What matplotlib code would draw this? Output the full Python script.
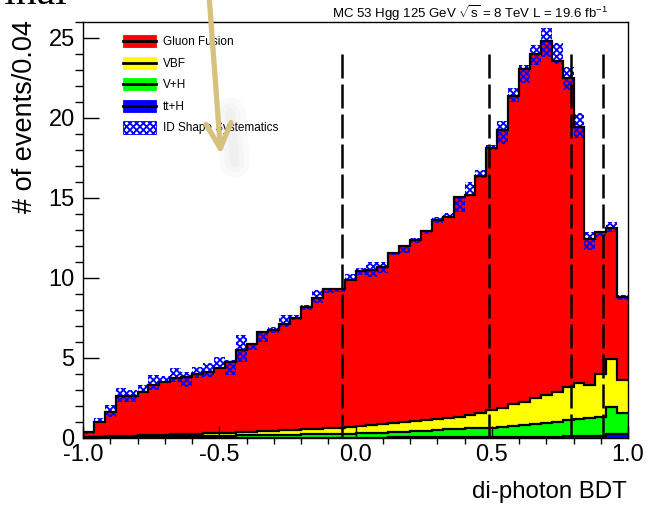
import numpy as np
import matplotlib
matplotlib.use("Agg")
import matplotlib.pyplot as plt
from matplotlib.patches import Patch, Rectangle, FancyArrowPatch
from matplotlib.lines import Line2D
from matplotlib.legend_handler import HandlerPatch
from matplotlib.ticker import MultipleLocator, FormatStrFormatter

plt.rcParams['font.family'] = ['Liberation Sans', 'DejaVu Sans']
plt.rcParams['mathtext.fontset'] = 'custom'
plt.rcParams['mathtext.rm'] = 'Liberation Sans'
plt.rcParams['mathtext.it'] = 'Liberation Sans'
plt.rcParams['axes.unicode_minus'] = False
plt.rcParams['hatch.linewidth'] = 1.3

# 50 bins of width 0.04 on [-1, 1]
bin_edges = np.linspace(-1.0, 1.0, 51)

# events per bin for each process
ggh = [0.27, 0.93, 1.54, 2.52, 2.50, 2.73, 3.11, 3.29, 3.50, 3.55,
       3.71, 3.83, 4.09, 4.43, 5.13, 5.45, 6.17, 6.29, 6.61, 6.98,
       7.65, 8.15, 8.70, 8.67, 9.21, 9.70, 9.70, 9.81, 10.66, 11.02,
       11.33, 11.84, 12.45, 12.56, 13.74, 13.75, 14.82, 16.35, 17.40, 19.28,
       20.79, 21.50, 22.12, 20.68, 19.31, 15.96, 9.13, 8.90, 8.18, 5.17]
vbf = [0.05, 0.055, 0.07, 0.08, 0.09, 0.10, 0.11, 0.12, 0.13, 0.14,
       0.15, 0.16, 0.17, 0.19, 0.21, 0.23, 0.25, 0.27, 0.29, 0.31,
       0.33, 0.35, 0.37, 0.38, 0.39, 0.46, 0.48, 0.52, 0.56, 0.60,
       0.64, 0.68, 0.71, 0.69, 0.76, 0.82, 0.93, 1.10, 1.15, 1.35,
       1.47, 1.60, 1.77, 1.88, 2.07, 2.29, 2.06, 2.65, 3.00, 2.09]
vh = [0.025, 0.03, 0.034, 0.043, 0.052, 0.061, 0.07, 0.079, 0.088, 0.097,
      0.106, 0.115, 0.124, 0.133, 0.142, 0.151, 0.16, 0.169, 0.178, 0.187,
      0.196, 0.205, 0.214, 0.233, 0.252, 0.271, 0.29, 0.309, 0.328, 0.347,
      0.376, 0.404, 0.432, 0.50, 0.498, 0.575, 0.602, 0.60, 0.645, 0.71,
      0.735, 0.81, 0.84, 0.93, 1.00, 1.06, 1.13, 1.19, 1.66, 1.30]
tth = [0.005, 0.005, 0.006, 0.007, 0.008, 0.009, 0.01, 0.011, 0.012, 0.013,
       0.014, 0.015, 0.016, 0.017, 0.018, 0.019, 0.02, 0.021, 0.022, 0.023,
       0.024, 0.025, 0.026, 0.027, 0.028, 0.029, 0.03, 0.031, 0.032, 0.033,
       0.034, 0.036, 0.038, 0.04, 0.042, 0.045, 0.048, 0.05, 0.055, 0.06,
       0.065, 0.07, 0.08, 0.09, 0.10, 0.11, 0.12, 0.14, 0.26, 0.24]

# ID shape systematics band (lower / upper edge per bin)
syst_lo = [0.25, 0.92, 1.33, 2.27, 2.27, 2.79, 3.00, 3.42, 3.52, 3.20,
           3.73, 3.83, 4.30, 3.94, 4.77, 5.50, 6.02, 6.54, 6.96, 7.35,
           8.00, 8.42, 9.04, 9.15, 9.88, 10.20, 10.08, 10.30, 11.44, 11.54,
           12.20, 12.75, 13.46, 13.73, 14.14, 15.20, 16.23, 18.00, 18.40, 21.00,
           22.20, 23.30, 23.80, 23.40, 21.75, 18.73, 11.75, 12.56, 12.90, 8.60]
syst_hi = [0.45, 1.23, 2.06, 3.10, 3.00, 3.31, 3.94, 3.90, 4.35, 4.15,
           4.46, 4.67, 5.08, 4.88, 6.44, 5.92, 6.64, 6.96, 7.69, 7.69,
           8.31, 9.25, 9.35, 9.35, 10.25, 10.65, 10.98, 10.98, 11.64, 12.06,
           12.48, 12.96, 13.79, 14.04, 15.08, 16.00, 16.75, 18.30, 19.80, 21.85,
           23.30, 24.56, 25.60, 24.70, 23.20, 20.30, 12.90, 12.95, 13.50, 8.95]

# category boundaries
boundaries = [-0.05, 0.49, 0.79, 0.91]


class BoxWithLine(HandlerPatch):
    # filled box with a black line through the middle, like ROOT "lf" entries
    def create_artists(self, legend, orig, xd, yd, w, h, fs, trans):
        box = Rectangle((-xd, -yd), w, h, fc=orig.get_facecolor(),
                        ec=orig.get_edgecolor(), lw=0.6, transform=trans)
        line = Line2D([-xd, -xd + w], [-yd + h / 2] * 2, color="k", lw=2,
                      transform=trans)
        return [box, line]


fig = plt.figure(figsize=(6.48, 5.08), dpi=100)
ax = fig.add_axes([83 / 648, 70 / 508, 545 / 648, 416 / 508])

layers = [("tt+H", tth, "#0000ff"), ("V+H", vh, "#00ff00"),
          ("VBF", vbf, "#ffff00"), ("Gluon Fusion", ggh, "#ff0000")]
bottom = np.zeros(len(ggh))
for name, vals, col in layers:
    top = bottom + np.asarray(vals)
    ax.stairs(top, bin_edges, baseline=bottom, fill=True, color=col, lw=0, zorder=1)
    ax.stairs(top, bin_edges, baseline=None, color="k", lw=1.6, zorder=1.4)
    bottom = top

centers = 0.5 * (bin_edges[1:] + bin_edges[:-1])
lo = np.asarray(syst_lo)
hi = np.asarray(syst_hi)
ax.bar(centers, hi - lo, bottom=lo, width=0.04, fill=False, hatch="xxxxx",
       edgecolor="#0000ff", lw=0, zorder=1.2)

ax.vlines(boundaries, 0, 24.4, colors="k", lw=1.8,
          linestyles=(0, (9.6, 2.4)), zorder=1.6)

ax.set_xlim(-1, 1)
ax.set_ylim(0, 26)
ax.xaxis.set_major_locator(MultipleLocator(0.5))
ax.xaxis.set_minor_locator(MultipleLocator(0.1))
ax.yaxis.set_major_locator(MultipleLocator(5))
ax.yaxis.set_minor_locator(MultipleLocator(1))
ax.tick_params(direction="in", top=False, right=False, labelsize=17)
ax.tick_params(axis="y", which="major", length=11.5, width=1, pad=6)
ax.tick_params(axis="y", which="minor", length=5.8, width=1)
ax.tick_params(axis="x", which="major", length=9, width=1, pad=4)
ax.tick_params(axis="x", which="minor", length=4.5, width=1)
ax.xaxis.set_major_formatter(FormatStrFormatter("%.1f"))
for sp in ax.spines.values():
    sp.set_linewidth(1.0)

handles = [Patch(fc=c, ec=c) for _, _, c in layers[::-1]]
hmap = {h: BoxWithLine() for h in handles}
handles.append(Patch(fc="white", ec="#0000ff", hatch="xxxxx", lw=0.6))
labels = [n for n, _, _ in layers[::-1]] + ["ID Shape Systematics"]
ax.legend(handles, labels, handler_map=hmap,
          loc="upper left", bbox_to_anchor=(0.073, 0.968), frameon=False,
          fontsize=8.5, handlelength=2.8, handleheight=1.2, handletextpad=0.6,
          labelspacing=0.72, borderpad=0, borderaxespad=0)

fig.text(608 / 648, 1 - 18 / 508,
         r"MC 53 Hgg 125 GeV $\sqrt{s}$ = 8 TeV L = 19.6 fb$^{-1}$",
         ha="right", va="baseline", fontsize=9.5)
fig.text(25 / 648, 1 - 20 / 508, "# of events/0.04", rotation=90,
         ha="center", va="top", fontsize=19.5)
fig.text(627 / 648, 1 - 492 / 508, "di-photon BDT", ha="right", va="center",
         fontsize=17.3)

# slide overlay: cropped heading and pen arrow
fig.text(68 / 648, 1 - 4 / 508, "Final", family=["Liberation Serif", "DejaVu Serif"],
         fontsize=30, ha="right", va="baseline")
for w in (22, 14, 7):
    fig.patches.append(FancyArrowPatch((230 / 648, 1 - 110 / 508), (235 / 648, 1 - 165 / 508),
                                       transform=fig.transFigure, arrowstyle="-",
                                       color="#808080", lw=w, alpha=0.035, zorder=9))
arrow = FancyArrowPatch((209 / 648, 1.01), (221 / 648, 1 - 157 / 508),
                        transform=fig.transFigure,
                        arrowstyle="->,head_length=18,head_width=9",
                        mutation_scale=1, color="#d6c27e", lw=3.8, zorder=10)
fig.patches.append(arrow)

fig.savefig("out.png", dpi=100)
